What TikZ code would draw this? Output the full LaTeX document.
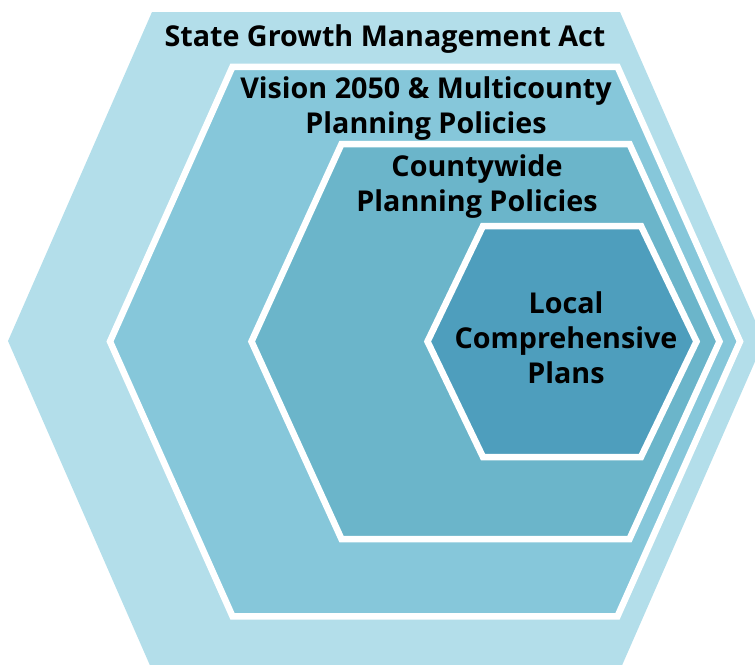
\documentclass[tikz,border=0pt]{standalone}
\usepackage{fontspec}
\setmainfont{Open Sans}
\definecolor{tierone}{HTML}{B3DEEA}
\definecolor{tiertwo}{HTML}{86C7DA}
\definecolor{tierthree}{HTML}{6BB5CA}
\definecolor{tierfour}{HTML}{4E9EBD}

\begin{document}
\begin{tikzpicture}[x=1pt, y=-1pt,
            lbl/.style={font=\fontsize{28.7}{35}\selectfont\bfseries, align=center, text=black, inner sep=0, anchor=base}]
            \useasboundingbox (0,0) rectangle (755,664);
            \clip (0,0) rectangle (755,664);
            % outer tier, runs off the page
            \fill[tierone] (152,12) -- (620,12) -- (764,341) -- (620,670) -- (152,670) -- (8,341) -- cycle;
            % inner tiers with white rims: centre x / half top / half middle / half height
            \foreach \cx/\a/\b/\h/\col in {425/192.5/315/274.75/tiertwo, 485.5/144/234/197.5/tierthree, 562/79/134.5/115.5/tierfour} {
                \filldraw[fill=\col, draw=white, line width=6.5pt]
                    (\cx-\a, 341.5-\h) -- (\cx+\a, 341.5-\h) -- (\cx+\b, 341.5)
                    -- (\cx+\a, 341.5+\h) -- (\cx-\a, 341.5+\h) -- (\cx-\b, 341.5) -- cycle;
            }
            % labels (base = last line)
            \node[lbl] (state) at (385, 46) {State Growth Management Act};
            \node[lbl] (vision) at (426, 133) {Vision 2050 \& Multicounty\\Planning Policies};
            \node[lbl] (county) at (477, 211) {Countywide\\Planning Policies};
            \node[lbl] (local) at (566, 383) {Local\\Comprehensive\\Plans};
        \end{tikzpicture}
\end{document}
